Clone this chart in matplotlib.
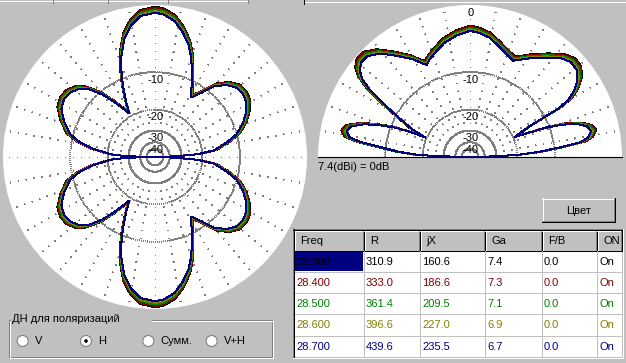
import numpy as np
import matplotlib
matplotlib.use('Agg')
import matplotlib.pyplot as plt
from matplotlib.patches import Rectangle, Circle

W, H = 626, 363
FACE = '#c0c0c0'
GRID = '#808080'
plt.rcParams['font.family'] = ['Liberation Sans', 'DejaVu Sans']

# table data
columns = ['Freq', 'R', 'jX', 'Ga', 'F/B', 'ON']
freqs = ['28.300', '28.400', '28.500', '28.600', '28.700']
r_vals = ['310.9', '333.0', '361.4', '396.6', '439.6']
jx_vals = ['160.6', '186.6', '209.5', '227.0', '235.5']
ga_vals = [7.4, 7.3, 7.1, 6.9, 6.7]
fb_vals = [0.0, 0.0, 0.0, 0.0, 0.0]
on_vals = ['On', 'On', 'On', 'On', 'On']
row_colors = ['#000000', '#800000', '#008000', '#808000', '#000080']
ref_gain = 7.4

# azimuth pattern (H), upper half, degrees clockwise from top -> dB
az_angles = [-90, -89.3, -88.5, -87.3, -85.6, -82.4, -78.9, -75, -68.7, -62.8,
             -57.6, -52.8, -47.8, -44.2, -40.1, -36.2, -30.5, -27.8, -24.3, -21.2,
             -18.1, -14.4, -10.3, -5.8, 0, 3.2, 8.0, 12.3, 16.7, 20,
             23, 26.4, 31.3, 35.8, 39.9, 44.9, 49.7, 54.5, 59, 63.7,
             69, 74.4, 78.5, 83.5, 86.2, 86.7, 88, 89, 90]
az_db = [-86, -50.6, -34.8, -22.2, -19.6, -14.4, -11.1, -8.7, -6.9, -5.6,
         -5.2, -5.4, -6.2, -7.5, -9.9, -13.2, -18.2, -14.8, -10.8, -7.7,
         -5.2, -3.0, -1.5, -0.5, -0.2, -0.35, -1.0, -2.2, -3.8, -5.5,
         -7.5, -9.8, -12.7, -10.5, -7.9, -6.2, -5.3, -5.15, -5.4, -6.2,
         -7.5, -9.3, -11.8, -15.4, -20.9, -25.2, -34.8, -50.6, -86]

# elevation pattern, degrees from zenith -> dB
el_angles = [-90, -89, -87.9, -85.9, -83.7, -82.3, -80.8, -78.1, -75.5, -72.7,
             -70.5, -68.4, -67.1, -66.5, -64.4, -61.2, -58.4, -56.4, -54.3, -51.9,
             -48.9, -45.4, -40.9, -36.1, -30.5, -25.3, -22.2, -17.6, -12.7, -6,
             0, 3.7, 9.1, 13.6, 19.7, 24.2, 30.9, 37.1, 42.8, 46.8,
             50.9, 54.4, 57.6, 60, 61.3, 61.8, 62.6, 65.8, 67.7, 68.8,
             70.5, 72.9, 75.3, 77.9, 80.6, 82.4, 83.8, 85.8, 87.6, 89, 90]
el_db = [-86, -39.8, -18.0, -12.5, -8.3, -4.9, -3.1, -2.5, -3.0, -4.8,
         -7.4, -10.5, -14.6, -18.8, -14.2, -10.2, -6.25, -3.5, -1.7, -0.7,
         -0.2, -0.25, -1.1, -2.6, -4.3, -6.2, -5.5, -4.7, -3.8, -3.0,
         -2.5, -2.7, -3.2, -4.0, -5.0, -5.55, -4.1, -2.7, -1.4, -0.9,
         -1.0, -1.7, -2.9, -4.4, -6.4, -9.2, -13.4, -18.7, -14.1, -10.2,
         -7.05, -4.5, -3.25, -2.8, -3.4, -4.6, -8.0, -12.9, -19.7, -39.8, -86]


def arrl(db):
    """ARRL log scale: 0.89 per 2 dB, 0 dB at the rim."""
    return 0.89 ** (-np.asarray(db, dtype=float) / 2.0)


def axes_px(fig, x0, y0, x1, y1, **kw):
    return fig.add_axes([x0 / W, 1 - y1 / H, (x1 - x0) / W, (y1 - y0) / H], **kw)


def setup_polar(ax, half):
    ax.set_theta_zero_location('N')
    ax.set_theta_direction(-1)
    if half:
        ax.set_thetamin(-90)
        ax.set_thetamax(90)
    ax.set_ylim(0, 1)
    ax.set_xticks([])
    ax.set_yticks([])
    ax.grid(False)
    for s in ax.spines.values():
        s.set_visible(False)
    ax.set_facecolor('white')
    span = np.radians(np.linspace(-90, 90, 181) if half else np.linspace(0, 360, 361))
    for db in (-10, -20):
        ax.plot(span, np.full(span.size, arrl(db)), color=GRID, lw=0.72,
                ls=(0, (1, 2)), antialiased=False)
    for db in (-30, -40, -50):
        ax.plot(span, np.full(span.size, arrl(db)), color=GRID, lw=0.72,
                antialiased=False)
    spokes = range(-90, 91, 10) if half else range(0, 360, 10)
    for a in spokes:
        ax.plot([np.radians(a)] * 2, [arrl(-30), 1], color=GRID, lw=0.72,
                ls=(0, (1, 7)), antialiased=False)
    labels = [0, -10, -20, -30, -40] if half else [-10, -20, -30, -40]
    for db in labels:
        ax.annotate(str(db), xy=(0, arrl(db)), xytext=(0.7, -7.8),
                    textcoords='offset points', ha='center', va='baseline',
                    fontsize=8, zorder=2)


def draw_patterns(ax, theta_deg, db):
    th = np.radians(theta_deg)
    for g, c in zip(ga_vals, row_colors):
        ax.plot(th, arrl(np.asarray(db) + (g - ref_gain)), color=c, lw=0.72,
                antialiased=False, zorder=3)


fig = plt.figure(figsize=(W / 100, H / 100), dpi=100, facecolor=FACE)
bg = fig.add_axes([0, 0, 1, 1])
bg.set_xlim(0, W)
bg.set_ylim(H, 0)
bg.axis('off')


def hline(x0, x1, y, c):
    bg.plot([x0, x1], [y, y], color=c, lw=0.72, antialiased=False, solid_capstyle='butt')


def vline(x, y0, y1, c):
    bg.plot([x, x], [y0, y1], color=c, lw=0.72, antialiased=False, solid_capstyle='butt')


# tab strip remnants at the top
hline(0, 248, 0.5, 'white')
for x in (52, 107, 167, 247):
    vline(x + 0.5, 0, 3, GRID)
hline(304, W, 1.5, 'white')
vline(303.5, 0, 4, 'black')

# azimuth plot
ax_az = axes_px(fig, 3, 5, 307, 309, projection='polar')
setup_polar(ax_az, half=False)
az_a = np.asarray(az_angles)
az_d = np.asarray(az_db)
draw_patterns(ax_az, np.concatenate([az_a, 180 - az_a[::-1]]),
              np.concatenate([az_d, az_d[::-1]]))

# elevation plot: matplotlib keeps the wedge box square, so the half disc
# sits in the middle half of a 304x304 box
ax_el = axes_px(fig, 318, -71, 622, 233, projection='polar')
setup_polar(ax_el, half=True)
draw_patterns(ax_el, el_angles, el_db)

bg.text(318, 167.5, f'{ref_gain}(dBi) = 0dB', va='center', ha='left', fontsize=8)

# colour button
bg.add_patch(Rectangle((542, 198), 73, 24, facecolor=FACE, edgecolor='none'))
hline(542, 615, 198.5, 'white')
vline(542.5, 198, 222, 'white')
hline(542, 615, 221.5, 'black')
vline(614.5, 198, 222, 'black')
hline(543, 614, 220.5, GRID)
vline(613.5, 199, 221, GRID)
bg.text(578.5, 210.5, 'Цвет', ha='center', va='center', fontsize=8)

# table
cols_x = [294, 364, 420, 485, 542, 597, 622]
rows_y = [230, 251, 272, 293, 314, 336, 357]
bg.add_patch(Rectangle((294, 251), 328, 106, facecolor='white', edgecolor='none'))
for i in range(len(columns)):
    x0, x1 = cols_x[i], cols_x[i + 1]
    bg.add_patch(Rectangle((x0, rows_y[0]), x1 - x0, rows_y[1] - rows_y[0],
                           facecolor=FACE, edgecolor='none'))
    hline(x0, x1, rows_y[0] + 0.5, 'white')
    vline(x0 + 0.5, rows_y[0], rows_y[1], 'white')
    vline(x1 - 0.5, rows_y[0], rows_y[1], 'black')
    vline(x1 - 1.5, rows_y[0] + 1, rows_y[1] - 1, GRID)
    hline(x0, x1, rows_y[1] - 0.5, 'black')
    bg.text(x0 + 6, (rows_y[0] + rows_y[1]) / 2 + 0.5, columns[i], ha='left',
            va='center', fontsize=8)
for y in rows_y[2:-1]:
    hline(294, 622, y - 0.5, FACE)
for x in cols_x[1:-1]:
    vline(x - 0.5, rows_y[1], rows_y[-1], FACE)
bg.add_patch(Rectangle((295, rows_y[1]), cols_x[1] - 296, rows_y[2] - rows_y[1] - 1,
                       facecolor='#000080', edgecolor='none'))
for j in range(len(freqs)):
    yc = (rows_y[j + 1] + rows_y[j + 2]) / 2 + 0.5
    cells = [freqs[j], r_vals[j], jx_vals[j], f'{ga_vals[j]:.1f}',
             f'{fb_vals[j]:.1f}', on_vals[j]]
    for i, s in enumerate(cells):
        bg.text(cols_x[i] + 2, yc, s, ha='left', va='center', fontsize=8,
                color=row_colors[j])
# sunken frame
hline(293, 623, 228.5, GRID)
vline(292.5, 228, 358, GRID)
hline(293, 623, 229.5, 'black')
vline(293.5, 229, 358, 'black')
hline(293, 623, 357.5, 'white')
vline(622.5, 229, 358, 'white')

# polarisation group box
bg.add_patch(Rectangle((8.5, 319.5), 263, 37, facecolor='none', edgecolor=GRID,
                       lw=0.72, antialiased=False))
bg.add_patch(Rectangle((9.5, 320.5), 263, 37, facecolor='none', edgecolor='white',
                       lw=0.72, antialiased=False))
bg.add_patch(Rectangle((11, 313), 141, 12, facecolor=FACE, edgecolor='none'))
bg.text(12, 319.5, 'ДН для поляризаций', ha='left', va='center', fontsize=8)
radios = ['V', 'H', 'Сумм.', 'V+H']
radio_x = [22.7, 86, 148.3, 211.7]
for lab, x in zip(radios, radio_x):
    bg.add_patch(Circle((x, 341), 5.5, facecolor='white', edgecolor=GRID, lw=0.8))
    if lab == 'H':
        bg.add_patch(Circle((x, 341), 1.8, facecolor='black', edgecolor='none'))
    bg.text(x + 12, 341.5, lab, ha='left', va='center', fontsize=8)

fig.savefig('out.png', dpi=100, facecolor=FACE)
